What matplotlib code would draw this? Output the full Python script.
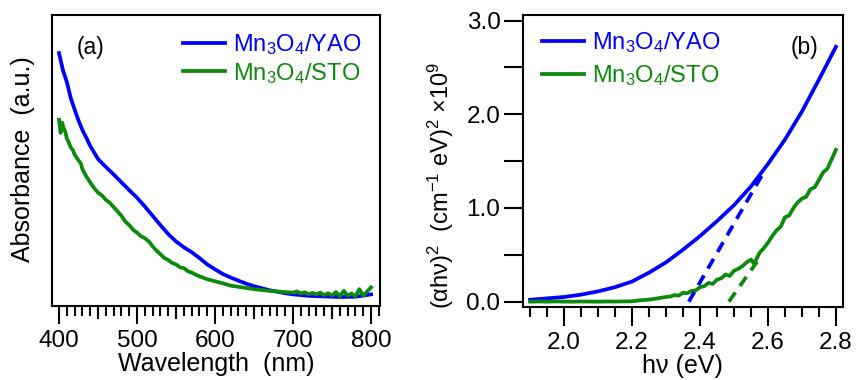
import matplotlib
matplotlib.use("Agg")
from matplotlib import pyplot as plt
from matplotlib.ticker import MultipleLocator, FixedLocator, NullFormatter, FormatStrFormatter

plt.rcParams['font.family'] = ['Liberation Sans', 'DejaVu Sans']
plt.rcParams['mathtext.fontset'] = 'custom'
plt.rcParams['mathtext.rm'] = 'Liberation Sans'
plt.rcParams['mathtext.default'] = 'regular'

blue = "#0000ff"
green = "#0b8a0b"
label_yao = r'Mn$_3$O$_4$/YAO'
label_sto = r'Mn$_3$O$_4$/STO'

# (a) absorbance, arbitrary units (0..1 of panel height)
wl_yao = [400, 405, 410, 415, 420, 425, 430, 435, 440, 450, 460, 470, 480, 490,
          500, 510, 520, 530, 540, 550, 560, 570, 580, 590, 600, 610, 620, 630,
          640, 650, 660, 670, 680, 690, 700, 720, 740, 760, 780, 800]
abs_yao = [0.869, 0.81, 0.77, 0.715, 0.675, 0.637, 0.605, 0.578, 0.55, 0.505,
           0.478, 0.452, 0.425, 0.398, 0.372, 0.342, 0.31, 0.278, 0.247, 0.222,
           0.202, 0.185, 0.165, 0.143, 0.126, 0.11, 0.098, 0.087, 0.077, 0.068,
           0.061, 0.054, 0.049, 0.044, 0.04, 0.035, 0.033, 0.031, 0.032, 0.04]

wl_sto = [400, 402, 404, 406, 408, 410, 412, 415, 418, 420, 425, 428, 430, 435,
          440, 445, 450, 455, 460, 465, 470, 475, 480, 485, 490, 495, 500, 505,
          510, 515, 520, 525, 530, 535, 540, 545, 550, 555, 560, 565, 570, 575,
          580, 590, 600, 610, 620, 630, 640, 650, 660, 670, 680, 690, 700, 705,
          710, 715, 720, 725, 730, 735, 740, 745, 750, 755, 760, 765, 770, 775,
          780, 785, 790, 795, 800]
abs_sto = [0.64, 0.595, 0.63, 0.61, 0.60, 0.575, 0.565, 0.545, 0.535, 0.52,
           0.50, 0.49, 0.47, 0.445, 0.425, 0.405, 0.39, 0.38, 0.365, 0.355, 0.34,
           0.325, 0.31, 0.29, 0.278, 0.262, 0.252, 0.24, 0.233, 0.222, 0.205,
           0.19, 0.178, 0.165, 0.158, 0.148, 0.143, 0.133, 0.13, 0.12, 0.115,
           0.108, 0.102, 0.092, 0.085, 0.078, 0.07, 0.066, 0.062, 0.058, 0.055,
           0.052, 0.05, 0.048, 0.046, 0.05, 0.043, 0.047, 0.041, 0.045, 0.04,
           0.046, 0.037, 0.044, 0.036, 0.048, 0.034, 0.052, 0.036, 0.043, 0.033,
           0.058, 0.035, 0.05, 0.064]

# (b) Tauc plot, units of 1e9
e_yao = [1.90, 1.95, 2.00, 2.05, 2.10, 2.15, 2.20, 2.25, 2.30, 2.35, 2.40, 2.45,
         2.50, 2.55, 2.60, 2.65, 2.70, 2.75, 2.80]
t_yao = [0.02, 0.035, 0.05, 0.075, 0.11, 0.155, 0.215, 0.31, 0.42, 0.555, 0.70,
         0.86, 1.03, 1.23, 1.47, 1.73, 2.03, 2.37, 2.72]

e_sto = [1.900, 1.925, 1.950, 1.975, 2.000, 2.025, 2.050, 2.075, 2.100, 2.125,
         2.150, 2.175, 2.200, 2.225, 2.250, 2.275, 2.300, 2.3125, 2.325, 2.3375,
         2.350, 2.3625, 2.375, 2.3875, 2.400, 2.4125, 2.425, 2.4375, 2.450,
         2.4625, 2.475, 2.4875, 2.500, 2.5125, 2.525, 2.5375, 2.550, 2.5575,
         2.5625, 2.575, 2.5875, 2.600, 2.6125, 2.625, 2.6375, 2.650, 2.6625,
         2.675, 2.6875, 2.700, 2.7125, 2.725, 2.7375, 2.750, 2.7625, 2.775,
         2.7875, 2.800]
t_sto = [0.0, 0.002, 0.0, 0.003, 0.001, 0.0, 0.002, 0.001, 0.0, 0.002, 0.001,
         0.003, 0.004, 0.015, 0.022, 0.035, 0.05, 0.055, 0.07, 0.065, 0.095,
         0.09, 0.115, 0.12, 0.155, 0.165, 0.20, 0.19, 0.235, 0.25, 0.29, 0.275,
         0.33, 0.35, 0.38, 0.42, 0.45, 0.41, 0.43, 0.52, 0.57, 0.63, 0.70, 0.76,
         0.80, 0.90, 0.92, 1.00, 1.06, 1.10, 1.12, 1.20, 1.22, 1.30, 1.38, 1.42,
         1.52, 1.62]

# linear fits (dashed)
fit_yao_e = [2.367, 2.592]
fit_yao_t = [0.0, 1.41]
fit_sto_e = [2.485, 2.568]
fit_sto_t = [0.0, 0.427]

fig = plt.figure(figsize=(8.57, 3.8), dpi=100)
ax1 = fig.add_axes([0.0607, 0.1947, 0.3827, 0.7658])
ax2 = fig.add_axes([0.6099, 0.1921, 0.3738, 0.7684])

lw = 2.7
ax1.plot(wl_yao, abs_yao, color=blue, lw=lw, label=label_yao)
ax1.plot(wl_sto, abs_sto, color=green, lw=lw, label=label_sto)
ax1.set_xlim(391, 811.5)
ax1.set_ylim(0, 1)
ax1.set_yticks([])
ax1.xaxis.set_major_locator(MultipleLocator(100))
ax1.xaxis.set_minor_locator(MultipleLocator(10))
ax1.tick_params(axis='x', which='major', direction='out', length=13, width=1.5,
                labelsize=17.5, pad=4)
ax1.tick_params(axis='x', which='minor', direction='out', length=7, width=1.5)
sec = ax1.secondary_xaxis('bottom')
sec.xaxis.set_major_locator(FixedLocator([450, 550, 650, 750]))
sec.xaxis.set_major_formatter(NullFormatter())
sec.tick_params(direction='out', length=9.5, width=1.5)
sec.spines['bottom'].set_visible(False)
ax1.set_xlabel('Wavelength  (nm)', fontsize=18, labelpad=0)
ax1.set_ylabel('Absorbance  (a.u.)', fontsize=18, va='center')
ax1.yaxis.set_label_coords(-0.088, 0.505)
ax1.text(0.116, 0.89, '(a)', transform=ax1.transAxes, fontsize=16.5,
         ha='center', va='center')
ax1.legend(loc='upper right', bbox_to_anchor=(0.945, 0.94), frameon=False,
           fontsize=17, handlelength=1.8, handletextpad=0.34, labelspacing=0.14,
           labelcolor='linecolor', borderaxespad=0, borderpad=0)

ax2.plot(e_yao, t_yao, color=blue, lw=lw, label=label_yao)
ax2.plot(e_sto, t_sto, color=green, lw=lw, label=label_sto)
ax2.plot(fit_yao_e, fit_yao_t, color=blue, lw=lw, dashes=(3.0, 2.1))
ax2.plot(fit_sto_e, fit_sto_t, color=green, lw=lw, dashes=(3.0, 2.1))
ax2.set_xlim(1.878, 2.821)
ax2.set_ylim(-0.057, 3.06)
ax2.xaxis.set_major_locator(MultipleLocator(0.2))
ax2.xaxis.set_minor_locator(MultipleLocator(0.05))
ax2.xaxis.set_major_formatter(FormatStrFormatter('%.1f'))
ax2.yaxis.set_major_locator(MultipleLocator(1.0))
ax2.yaxis.set_minor_locator(MultipleLocator(0.5))
ax2.yaxis.set_major_formatter(FormatStrFormatter('%.1f'))
ax2.tick_params(axis='x', which='major', direction='out', length=14, width=1.5,
                labelsize=17.5, pad=4)
ax2.tick_params(axis='x', which='minor', direction='out', length=7, width=1.5)
ax2.tick_params(axis='y', which='both', direction='out', length=14, width=1.5,
                labelsize=17.5, pad=2)
ax2.set_xlabel('hν (eV)', fontsize=18, labelpad=0)
ax2.set_ylabel('(αhν)$^2$  (cm$^{-1}$ eV)$^2$ ×10$^9$', fontsize=17, va='center')
ax2.yaxis.set_label_coords(-0.255, 0.418)
ax2.text(0.88, 0.89, '(b)', transform=ax2.transAxes, fontsize=16.5,
         ha='center', va='center')
ax2.legend(loc='upper left', bbox_to_anchor=(0.059, 0.947), frameon=False,
           fontsize=17, handlelength=1.8, handletextpad=0.34, labelspacing=0.33,
           labelcolor='linecolor', borderaxespad=0, borderpad=0)

for ax in (ax1, ax2):
    for s in ax.spines.values():
        s.set_linewidth(1.5)

fig.savefig('out.png', dpi=100)
